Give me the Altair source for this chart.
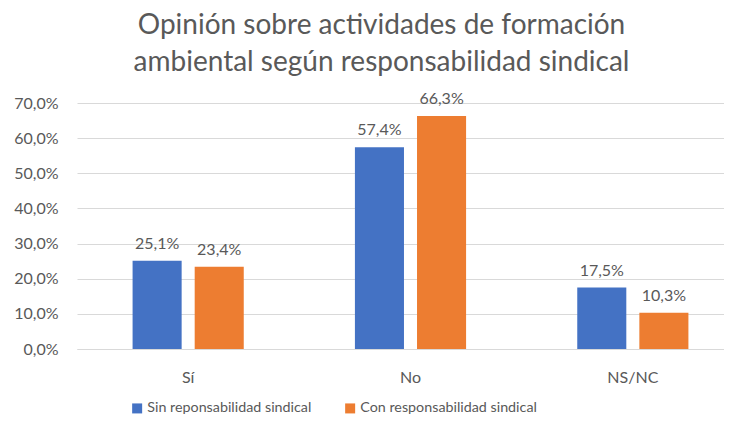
import altair as alt
import pandas as pd

categories = ["Sí", "No", "NS/NC"]
series = ["Sin reponsabilidad sindical", "Con responsabilidad sindical"]
sin_values = [0.251, 0.574, 0.175]
con_values = [0.234, 0.663, 0.103]
colors = ["#4472C4", "#ED7D31"]

rows = []
for c, a, b in zip(categories, sin_values, con_values):
    rows.append({"cat": c, "serie": series[0], "valor": a})
    rows.append({"cat": c, "serie": series[1], "valor": b})
df = pd.DataFrame(rows)

FONT = "Lato"
GRAY = "#595959"

x_enc = alt.X(
    "cat:N", sort=categories, title=None,
    scale=alt.Scale(range=[0, 667], paddingInner=0.5, paddingOuter=0.25),
    axis=alt.Axis(labelAngle=0, ticks=False, domainColor="#D9D9D9", labelPadding=20,
                  labelFontSize=16, labelColor=GRAY, labelFont=FONT),
)
xoff = alt.XOffset("serie:N", sort=series, scale=alt.Scale(paddingInner=0.21, paddingOuter=0))
y_enc = alt.Y(
    "valor:Q", title=None,
    scale=alt.Scale(domain=[0, 0.7], nice=False),
    axis=alt.Axis(values=[0, 0.1, 0.2, 0.3, 0.4, 0.5, 0.6, 0.7], domain=False, ticks=False,
                  labelPadding=19, labelFontSize=16, labelColor=GRAY, labelFont=FONT,
                  gridColor="#D9D9D9", gridWidth=1,
                  labelExpr="replace(format(datum.value, '.1%'), '.', ',')"),
)

base = alt.Chart(df).encode(x=x_enc, xOffset=xoff, y=y_enc)

bars = base.mark_bar().encode(
    color=alt.Color("serie:N", sort=series, scale=alt.Scale(domain=series, range=colors),
                    legend=alt.Legend(title=None, orient="none", legendX=53, legendY=298,
                                      direction="horizontal", symbolType="square",
                                      symbolSize=100, symbolStrokeWidth=0,
                                      labelFontSize=14.3, labelColor=GRAY, labelFont=FONT,
                                      labelLimit=0, labelOffset=3, columnPadding=31)),
)

labels = base.transform_calculate(
    etiqueta="replace(format(datum.valor, '.1%'), '.', ',')"
).mark_text(baseline="alphabetic", dy=-12, fontSize=16, color=GRAY, font=FONT).encode(
    text="etiqueta:N"
)

chart = (bars + labels).properties(
    width=647, height=246,
    autosize=alt.AutoSizeParams(type="none"),
    padding={"left": 69, "top": 95, "right": 0, "bottom": 72},
    title=alt.TitleParams(
        text=["Opinión sobre actividades de formación", "ambiental según responsabilidad sindical"],
        fontSize=28, font=FONT, fontWeight="normal", color=GRAY, lineHeight=37,
        anchor="middle", offset=14, dx=-19,
    ),
).configure_view(stroke=None)

chart.save("out.html", embed_options={"renderer": "svg", "actions": False})
